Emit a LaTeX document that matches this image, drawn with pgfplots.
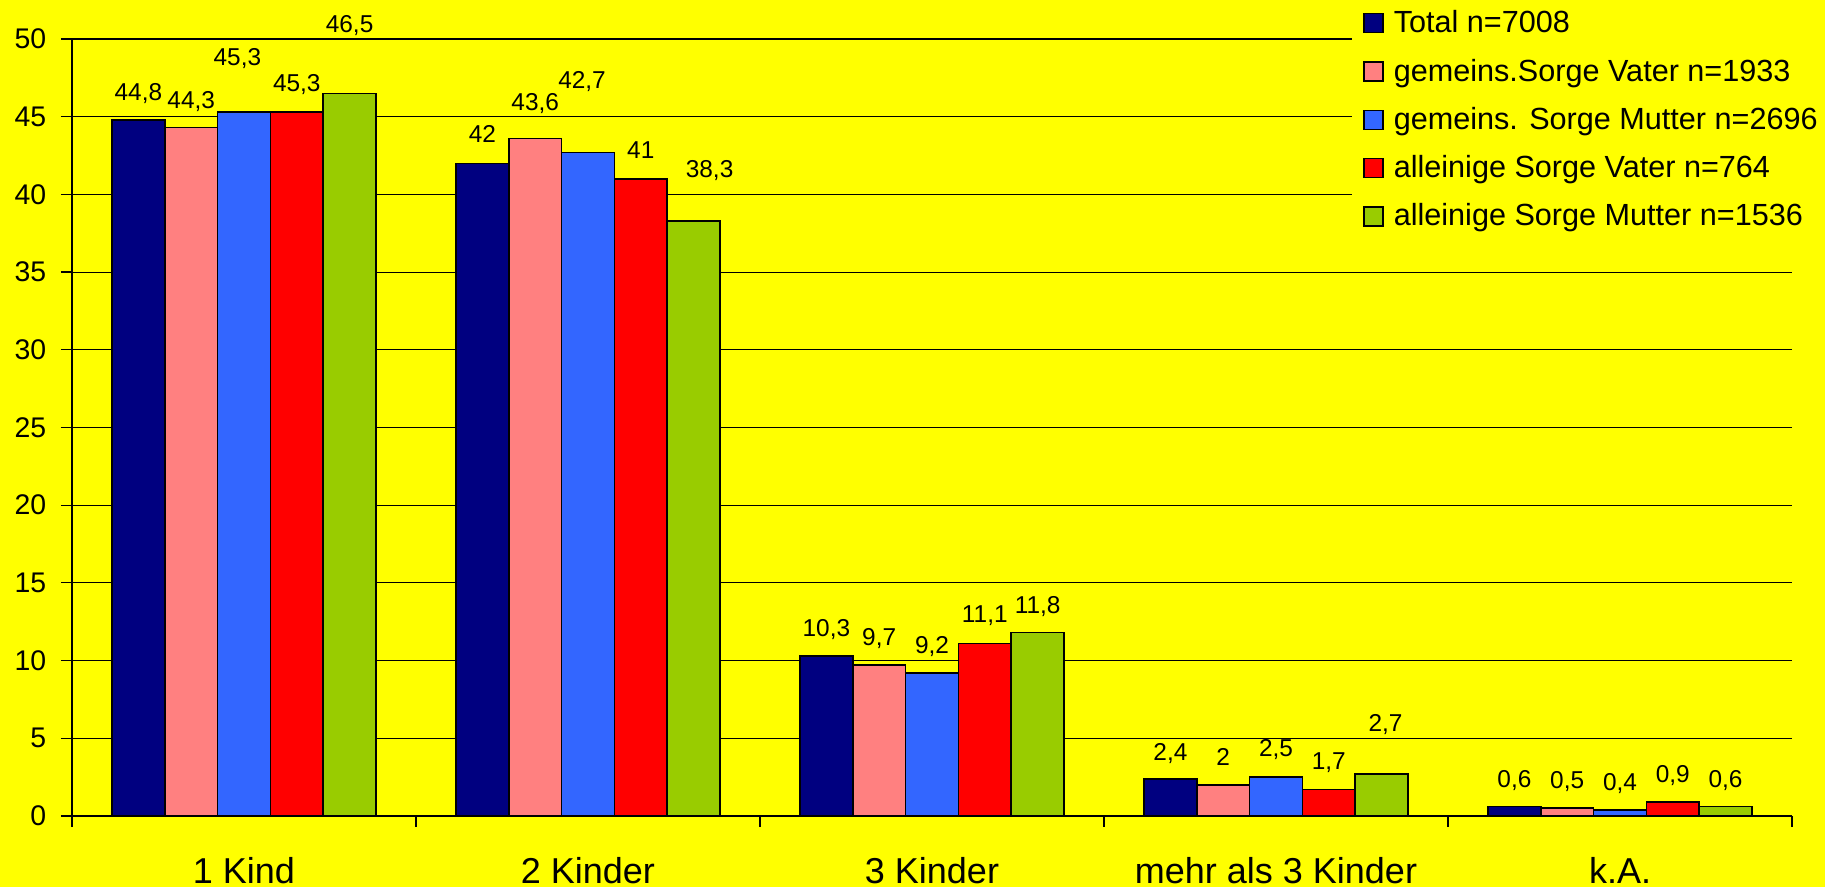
\documentclass[border=0pt]{standalone}
\usepackage{fontspec}
\setmainfont{Liberation Sans}
\usepackage{pgfplots}
\usepackage{pgfplotstable}
\pgfplotsset{compat=1.18}
\definecolor{bgyellow}{HTML}{FFFF00}
\definecolor{cnavy}{HTML}{000080}
\definecolor{cpink}{HTML}{FF8080}
\definecolor{cblue}{HTML}{3366FF}
\definecolor{cred}{HTML}{FF0000}
\definecolor{cgreen}{HTML}{99CC00}

% x = category index, y = value, dx/dy = label shifts (pt)
\pgfplotstableread{
x y dx dy
0 44.8 0 9.7
1 42 0 10.2
2 10.3 0 9.7
3 2.4 0 9.2
4 0.6 0 9.7
}\tTotal
\pgfplotstableread{
x y dx dy
0 44.3 0 9.7
1 43.6 0 14.1
2 9.7 0 10.0
3 2 0 9.7
4 0.5 0 10.0
}\tGVater
\pgfplotstableread{
x y dx dy
0 45.3 -3.3 23.2
1 42.7 -3 32.2
2 9.2 0 10.0
3 2.5 0 10.2
4 0.4 0 9.7
}\tGMutter
\pgfplotstableread{
x y dx dy
0 45.3 0 10.2
1 41 0 10.2
2 11.1 0 10.7
3 1.7 0 10.2
4 0.9 0 9.9
}\tAVater
\pgfplotstableread{
x y dx dy
0 46.5 0 30.2
1 38.3 8 21.7
2 11.8 0 9.7
3 2.7 2 21.2
4 0.6 0 9.7
}\tAMutter

\pgfplotsset{sqleg/.style={legend image code/.code={\draw[##1,draw=black,line width=0.7pt] (0pt,0pt) rectangle (9.5pt,9.5pt);}}}

\begin{document}
\begin{tikzpicture}
\fill[bgyellow] (-36pt,-35.5pt) rectangle (876.5pt,408pt);
\begin{axis}[
  at={(0pt,0pt)}, anchor=south west,
  scale only axis, width=860pt, height=388.5pt,
  xmin=-0.5, xmax=4.5, ymin=0, ymax=50,
  ybar=0pt, bar width=26.4pt,
  axis lines=left, axis line style={-, black, line width=0.6pt},
  ymajorgrids, grid style={black, line width=0.55pt},
  ytick={0,5,...,50},
  xtick={0,1,2,3,4},
  xticklabels={1 Kind, 2 Kinder, 3 Kinder, mehr als 3 Kinder, k.A.},
  minor xtick={-0.5,0.5,1.5,2.5,3.5,4.5},
  tick align=outside, major tick length=5.5pt, minor tick length=5.5pt,
  major x tick style={draw=none},
  minor x tick style={draw=black, line width=0.6pt},
  ytick style={draw=black, line width=0.6pt},
  /pgf/number format/assume math mode=true,
  /pgf/number format/use comma,
  yticklabel style={font=\fontsize{14.2pt}{14.2pt}\selectfont, inner xsep=0pt, xshift=-7.2pt},
  xticklabel style={font=\fontsize{18pt}{18pt}\selectfont, anchor=north, inner sep=0pt, yshift=-15pt},
  point meta=explicit,
  nodes near coords={\pgfmathprintnumber{\pgfplotspointmeta}},
  visualization depends on={\thisrow{dx} \as \dx},
  visualization depends on={\thisrow{dy} \as \dy},
  nodes near coords style={anchor=base, inner sep=0pt, black, font=\fontsize{12.2pt}{12.2pt}\selectfont, xshift=\dx*1pt, yshift=\dy*1pt},
  legend style={at={(rel axis cs:0.74419,1.05019)}, anchor=north west, fill=bgyellow, draw=none,
    inner xsep=5.5pt, inner ysep=4.65pt, row sep=9.15pt, column sep=0pt,
    font=\fontsize{15.3pt}{15.3pt}\selectfont,
    nodes={inner sep=0pt, inner xsep=5pt, text height=11.5pt, text depth=3.5pt, anchor=base west}},
  legend cell align=left,
  every axis plot post/.append style={sqleg},
]
\addplot[fill=cnavy, draw=black, line width=0.8pt, sqleg] table[x=x, y=y, meta=y] {\tTotal};
\addplot[fill=cpink, draw=black, line width=0.8pt, sqleg] table[x=x, y=y, meta=y] {\tGVater};
\addplot[fill=cblue, draw=black, line width=0.8pt, sqleg] table[x=x, y=y, meta=y] {\tGMutter};
\addplot[fill=cred, draw=black, line width=0.8pt, sqleg] table[x=x, y=y, meta=y] {\tAVater};
\addplot[fill=cgreen, draw=black, line width=0.8pt, sqleg] table[x=x, y=y, meta=y] {\tAMutter};
\legend{Total n=7008, gemeins.Sorge Vater n=1933, gemeins. Sorge Mutter n=2696, alleinige Sorge Vater n=764, alleinige Sorge Mutter n=1536}
\end{axis}
\pgfresetboundingbox
\path[use as bounding box] (-36pt,-35.5pt) rectangle (876.5pt,408pt);
\end{tikzpicture}
\end{document}
